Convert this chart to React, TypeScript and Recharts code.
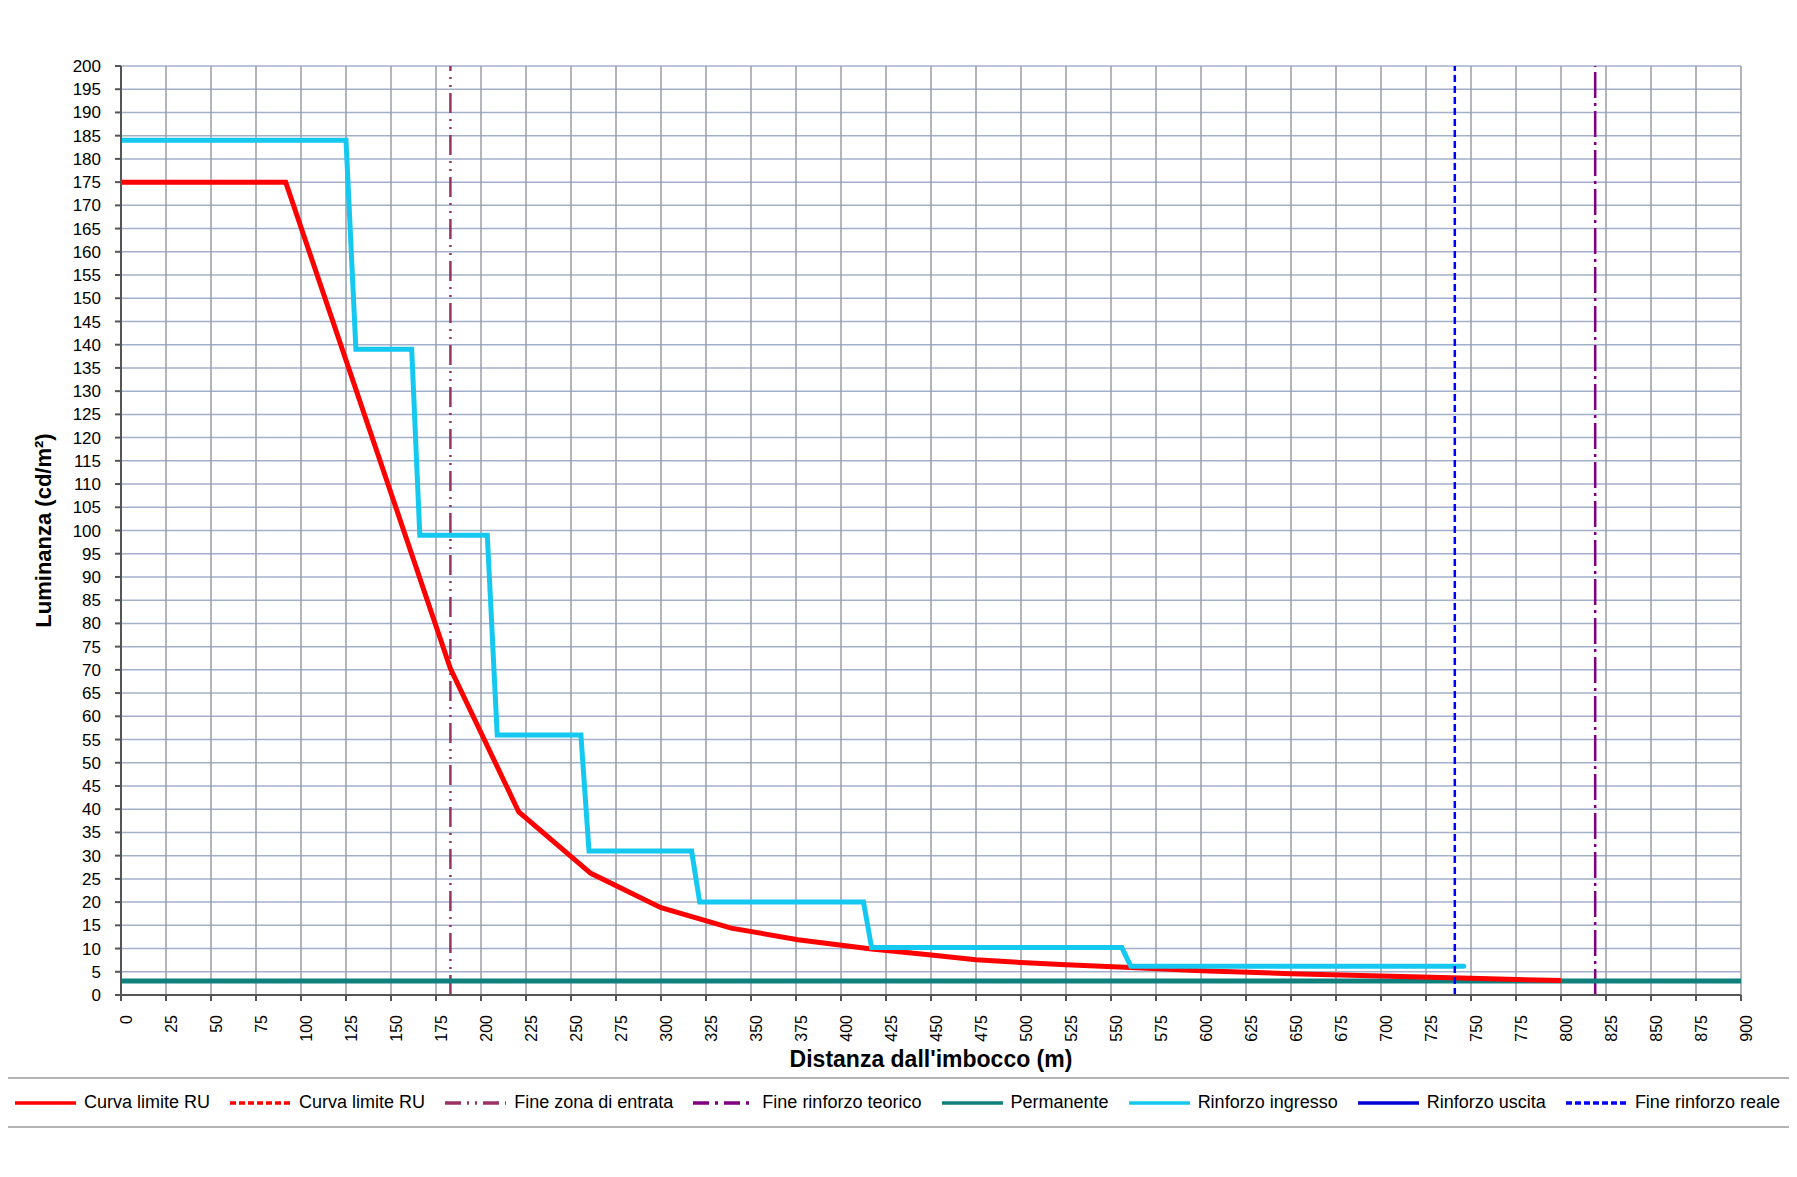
import { CartesianGrid, Line, LineChart, ReferenceLine, XAxis, YAxis } from 'recharts';

const distanceTicks = [
  0, 25, 50, 75, 100, 125, 150, 175, 200, 225, 250, 275, 300, 325, 350, 375, 400, 425, 450,
  475, 500, 525, 550, 575, 600, 625, 650, 675, 700, 725, 750, 775, 800, 825, 850, 875, 900,
];

const luminanceTicks = [
  0, 5, 10, 15, 20, 25, 30, 35, 40, 45, 50, 55, 60, 65, 70, 75, 80, 85, 90, 95, 100,
  105, 110, 115, 120, 125, 130, 135, 140, 145, 150, 155, 160, 165, 170, 175, 180, 185, 190, 195, 200,
];

// Curva limite RU
const curvaLimite = [
  { x: 0, y: 175 },
  { x: 91.5, y: 175 },
  { x: 183, y: 70.3 },
  { x: 221, y: 39.4 },
  { x: 261, y: 26.2 },
  { x: 300, y: 18.8 },
  { x: 339, y: 14.4 },
  { x: 376, y: 11.9 },
  { x: 417, y: 9.9 },
  { x: 450, y: 8.6 },
  { x: 475, y: 7.6 },
  { x: 500, y: 7.0 },
  { x: 525, y: 6.5 },
  { x: 561, y: 5.9 },
  { x: 600, y: 5.2 },
  { x: 650, y: 4.6 },
  { x: 700, y: 4.1 },
  { x: 750, y: 3.6 },
  { x: 800, y: 3.1 },
];

// Rinforzo ingresso
const rinforzoIngresso = [
  { x: 0, y: 184 },
  { x: 125, y: 184 },
  { x: 130.5, y: 139 },
  { x: 161.5, y: 139 },
  { x: 166, y: 99 },
  { x: 203.5, y: 99 },
  { x: 209, y: 56 },
  { x: 255.5, y: 56 },
  { x: 260, y: 31 },
  { x: 317, y: 31 },
  { x: 321.5, y: 20 },
  { x: 412.5, y: 20 },
  { x: 417, y: 10.2 },
  { x: 556, y: 10.2 },
  { x: 561, y: 6.2 },
  { x: 746, y: 6.2 },
];

// Permanente
const permanente = [
  { x: 0, y: 3 },
  { x: 900, y: 3 },
];

const fineZonaEntrata = 183;
const fineRinforzoReale = 741;
const fineRinforzoTeorico = 819;

const legendItems = [
  { name: 'Curva limite RU', color: '#ff0000', dash: '' },
  { name: 'Curva limite RU', color: '#ff0000', dash: '6 3' },
  { name: 'Fine zona di entrata', color: '#993366', dash: '16 6 2 6 2 6' },
  { name: 'Fine rinforzo teorico', color: '#800080', dash: '16 6 3 6' },
  { name: 'Permanente', color: '#0f807c', dash: '' },
  { name: 'Rinforzo ingresso', color: '#14c8f0', dash: '' },
  { name: 'Rinforzo uscita', color: '#0000d0', dash: '' },
  { name: 'Fine rinforzo reale', color: '#0000ff', dash: '6 3' },
];

const FONT = '"Liberation Sans", Arial, sans-serif';

const YTitle = (props: any) => {
  const vb = props.viewBox || {};
  const cx = 35;
  const cy = vb.y + vb.height / 2;
  return (
    <text
      x={cx}
      y={cy}
      transform={`rotate(-90 ${cx} ${cy})`}
      textAnchor="middle"
      dominantBaseline="central"
      fontFamily={FONT}
      fontWeight="bold"
      fontSize={22}
      fill="#000"
    >
      Luminanza (cd/m²)
    </text>
  );
};

export default function App() {
  return (
    <div style={{ position: 'relative', width: 1781, height: 1140, fontFamily: FONT }}>
      <LineChart
        width={1781}
        height={1068}
        margin={{ top: 58, right: 48, left: 53, bottom: 6 }}
      >
        <CartesianGrid horizontal={true} vertical={false} stroke="#a3b0ca" strokeWidth={1.5} />
        <CartesianGrid horizontal={false} vertical={true} stroke="#9a9ca6" strokeWidth={1.5} />
        <XAxis
          dataKey="x"
          type="number"
          domain={[0, 900]}
          ticks={distanceTicks}
          interval={0}
          allowDataOverflow
          height={75}
          tickSize={6}
          tickMargin={14}
          stroke="#555"
          strokeWidth={2}
          tick={{ angle: -90, textAnchor: 'end', verticalAnchor: 'middle', fill: '#000', fontSize: 16, fontFamily: FONT }}
          label={{
            value: "Distanza dall'imbocco (m)",
            position: 'insideBottom',
            offset: 3,
            fill: '#000',
            fontSize: 23,
            fontWeight: 'bold',
            fontFamily: FONT,
          }}
        />
        <YAxis
          type="number"
          domain={[0, 200]}
          ticks={luminanceTicks}
          interval={0}
          allowDataOverflow
          width={60}
          tickSize={6}
          tickMargin={14}
          stroke="#555"
          strokeWidth={2}
          tick={{ fill: '#000', fontSize: 17, fontFamily: FONT }}
          label={YTitle}
        />
        <ReferenceLine x={fineZonaEntrata} stroke="#993366" strokeWidth={2.5} strokeDasharray="20 6 2 6 2 6" />
        <ReferenceLine x={fineRinforzoTeorico} stroke="#800080" strokeWidth={2.5} strokeDasharray="26 5 3 5" />
        <Line
          data={permanente}
          dataKey="y"
          name="Permanente"
          type="linear"
          stroke="#0f807c"
          strokeWidth={5}
          dot={false}
          activeDot={false}
          isAnimationActive={false}
        />
        <Line
          data={curvaLimite}
          dataKey="y"
          name="Curva limite RU"
          type="linear"
          stroke="#ff0000"
          strokeWidth={5}
          dot={false}
          activeDot={false}
          isAnimationActive={false}
        />
        <Line
          data={rinforzoIngresso}
          dataKey="y"
          name="Rinforzo ingresso"
          type="linear"
          stroke="#14c8f0"
          strokeWidth={5}
          strokeLinecap="round"
          dot={false}
          activeDot={false}
          isAnimationActive={false}
        />
        <ReferenceLine x={fineRinforzoReale} stroke="#0000ff" strokeWidth={2.5} strokeDasharray="7 4" />
      </LineChart>
      <div
        style={{
          position: 'absolute',
          left: -8,
          top: 1069,
          width: 1797,
          height: 51,
          boxSizing: 'border-box',
          borderTop: '2px solid #b4b4b4',
          borderBottom: '2px solid #b4b4b4',
          display: 'flex',
          alignItems: 'center',
          justifyContent: 'space-between',
          paddingLeft: 15,
          paddingRight: 17,
          fontSize: 18,
          color: '#000',
        }}
      >
        {legendItems.map((item, index) => (
          <div key={`legend-${index}`} style={{ display: 'flex', alignItems: 'center' }}>
            <svg width={61} height={6} style={{ marginRight: 8 }}>
              <line
                x1={0}
                y1={3}
                x2={61}
                y2={3}
                stroke={item.color}
                strokeWidth={3.5}
                strokeDasharray={item.dash || undefined}
              />
            </svg>
            <span>{item.name}</span>
          </div>
        ))}
      </div>
    </div>
  );
}
